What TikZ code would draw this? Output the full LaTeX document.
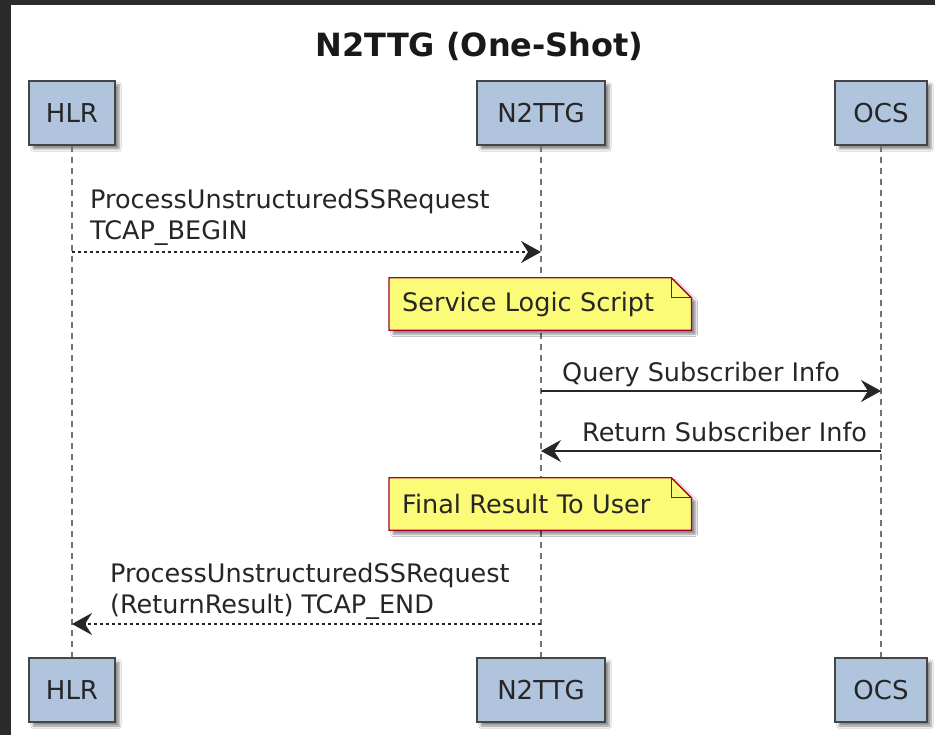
\documentclass[tikz,border=0pt]{standalone}
\usepackage{fontspec}
\setmainfont{DejaVu Sans}
\usetikzlibrary{arrows.meta,shadows,shadows.blur}
\definecolor{partfill}{HTML}{B0C4DE}
\definecolor{partline}{HTML}{454545}
\definecolor{notefill}{HTML}{FBFB77}
\definecolor{noteline}{HTML}{A80036}
\definecolor{frame}{HTML}{2B2B2B}
\begin{document}
\begin{tikzpicture}[x=1pt,y=-1pt,
  part/.style={rectangle,draw=partline,line width=1.5pt,fill=partfill,minimum height=64pt,inner sep=0pt,
    font=\fontsize{26}{30}\selectfont,text=black!85,
    blur shadow={shadow xshift=4pt,shadow yshift=-4pt,shadow blur steps=6,shadow opacity=45}},
  life/.style={draw=black!55,line width=2.2pt,dash pattern=on 6pt off 5pt},
  msgtext/.style={anchor=base west,inner sep=0pt,align=left,font=\fontsize{25.5}{31}\selectfont,text=black!85},
  req/.style={draw=black!85,line width=1.4pt,-{Stealth[length=20pt,width=22pt,inset=7pt]}},
  rsp/.style={req,dash pattern=on 3pt off 3pt},
  note/.style={anchor=west,inner xsep=13pt,inner ysep=0pt,text width=276pt,align=left,minimum height=52pt,
    font=\fontsize{25.5}{31}\selectfont,text=black!85}]
\useasboundingbox (0,0) rectangle (935,735);
\fill[frame] (0,0) rectangle (935,735);
\fill[white] (11,5) rectangle (935,735);

\node[anchor=base,font=\bfseries\fontsize{32}{36}\selectfont,text=black!90] (title) at (479.5,57) {N2TTG (One-Shot)};

% participants, top and bottom
\node[part,minimum width=86pt] (hlrT) at (72,113) {HLR};
\node[part,minimum width=128pt] (ttgT) at (541,113) {N2TTG};
\node[part,minimum width=92pt] (ocsT) at (881,113) {OCS};
\node[part,minimum width=86pt] (hlrB) at (72,690) {HLR};
\node[part,minimum width=128pt] (ttgB) at (541,690) {N2TTG};
\node[part,minimum width=92pt] (ocsB) at (881,690) {OCS};
\draw[life] (hlrT)--(hlrB) (ttgT)--(ttgB) (ocsT)--(ocsB);

% message ends on the lifelines
\coordinate (m1a) at (72,252);  \coordinate (m1b) at (541,252);
\coordinate (m2a) at (541,391); \coordinate (m2b) at (881,391);
\coordinate (m3a) at (881,451); \coordinate (m3b) at (541,451);
\coordinate (m4a) at (541,624); \coordinate (m4b) at (72,624);

\draw[rsp] (m1a)--(m1b);
\node[msgtext] (m1) at (90,240) {ProcessUnstructuredSSRequest\\TCAP\_BEGIN};

\node[note] (n1) at (389,304) {Service Logic Script};
\draw[fill=notefill,draw=noteline,line width=1.3pt,
  blur shadow={shadow xshift=4pt,shadow yshift=-4pt,shadow blur steps=6,shadow opacity=45}]
  (n1.north west)--([xshift=-20pt]n1.north east)--([yshift=-20pt]n1.north east)--(n1.south east)--(n1.south west)--cycle;
\draw[draw=noteline,line width=1.3pt] ([xshift=-20pt]n1.north east)|-([yshift=-20pt]n1.north east);
\node[note] at (389,304) {Service Logic Script};

\draw[req] (m2a)--(m2b);
\node[msgtext] (m2) at (562,382) {Query Subscriber Info};
\draw[req] (m3a)--(m3b);
\node[msgtext] (m3) at (582,442) {Return Subscriber Info};

\node[note] (n2) at (389,504) {Final Result To User};
\draw[fill=notefill,draw=noteline,line width=1.3pt,
  blur shadow={shadow xshift=4pt,shadow yshift=-4pt,shadow blur steps=6,shadow opacity=45}]
  (n2.north west)--([xshift=-20pt]n2.north east)--([yshift=-20pt]n2.north east)--(n2.south east)--(n2.south west)--cycle;
\draw[draw=noteline,line width=1.3pt] ([xshift=-20pt]n2.north east)|-([yshift=-20pt]n2.north east);
\node[note] at (389,504) {Final Result To User};

\draw[rsp] (m4a)--(m4b);
\node[msgtext] (m4) at (110,613) {ProcessUnstructuredSSRequest\\(ReturnResult) TCAP\_END};

\end{tikzpicture}
\end{document}
